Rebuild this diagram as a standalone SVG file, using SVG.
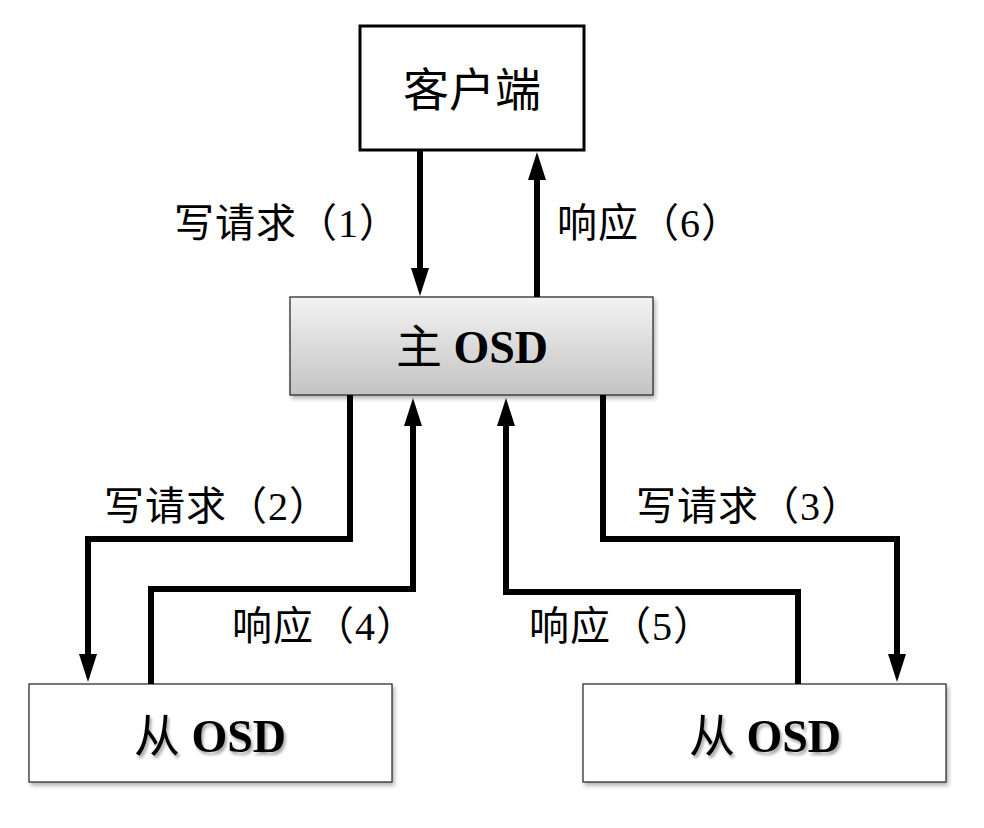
<svg xmlns="http://www.w3.org/2000/svg" width="984" height="828" viewBox="0 0 984 828">
<defs>
<linearGradient id="g" x1="0" y1="0" x2="0" y2="1">
<stop offset="0" stop-color="#f3f3f3"/>
<stop offset="1" stop-color="#c3c3c3"/>
</linearGradient>
<filter id="sh" x="-10%" y="-10%" width="125%" height="130%">
<feDropShadow dx="2" dy="3" stdDeviation="2" flood-color="#000" flood-opacity="0.3"/>
</filter>
<filter id="tsh" x="-10%" y="-10%" width="130%" height="140%">
<feDropShadow dx="2" dy="3" stdDeviation="1.5" flood-color="#000" flood-opacity="0.35"/>
</filter>
<marker id="ah" viewBox="0 0 28 18" markerWidth="28" markerHeight="18" markerUnits="userSpaceOnUse" refX="8" refY="9" orient="auto">
<path d="M0,0 L28,9 L0,18 z" fill="#000"/>
</marker>
</defs>
<style>
.t{font-family:"Liberation Serif","Noto Sans CJK SC",serif;fill:#000}
.lbl{font-size:40px;letter-spacing:1px}
.big{font-size:46px}
.b{font-weight:bold}
.c{fill:none;stroke:#000;stroke-width:6;stroke-linejoin:miter;marker-end:url(#ah)}
</style>
<rect width="984" height="828" fill="#fff"/>
<g id="client">
<rect x="360" y="26" width="224" height="124" fill="#fff" stroke="#000" stroke-width="3"/>
<text class="t big" x="472" y="106" text-anchor="middle">客户端</text>
</g>
<g id="primary">
<rect x="290" y="297" width="363" height="98" fill="url(#g)" stroke="#222" stroke-width="1.2" filter="url(#sh)"/>
<text class="t big" x="472" y="363" text-anchor="middle">主 <tspan class="b">OSD</tspan></text>
</g>
<g id="replica1">
<rect x="29" y="684" width="363" height="98" fill="#fff" stroke="#222" stroke-width="1.2" filter="url(#sh)"/>
<text class="t big" x="210" y="752" text-anchor="middle" filter="url(#tsh)">从 <tspan class="b">OSD</tspan></text>
</g>
<g id="replica2">
<rect x="583" y="684" width="363" height="98" fill="#fff" stroke="#222" stroke-width="1.2" filter="url(#sh)"/>
<text class="t big" x="765" y="752" text-anchor="middle" filter="url(#tsh)">从 <tspan class="b">OSD</tspan></text>
</g>
<g id="connectors">
<path class="c" d="M420,151 V276"/>
<path class="c" d="M537,297 V172"/>
<path class="c" d="M350,395 V539 H88 V662"/>
<path class="c" d="M151,684 V589 H413 V418"/>
<path class="c" d="M798,684 V592 H506 V418"/>
<path class="c" d="M603,395 V539 H897 V662"/>
</g>
<g id="labels">
<text class="t lbl" x="174" y="237">写请求（1）</text>
<text class="t lbl" x="557" y="237">响应（6）</text>
<text class="t lbl" x="104" y="520">写请求（2）</text>
<text class="t lbl" x="636" y="520">写请求（3）</text>
<text class="t lbl" x="232" y="640">响应（4）</text>
<text class="t lbl" x="529" y="640">响应（5）</text>
</g>
</svg>
